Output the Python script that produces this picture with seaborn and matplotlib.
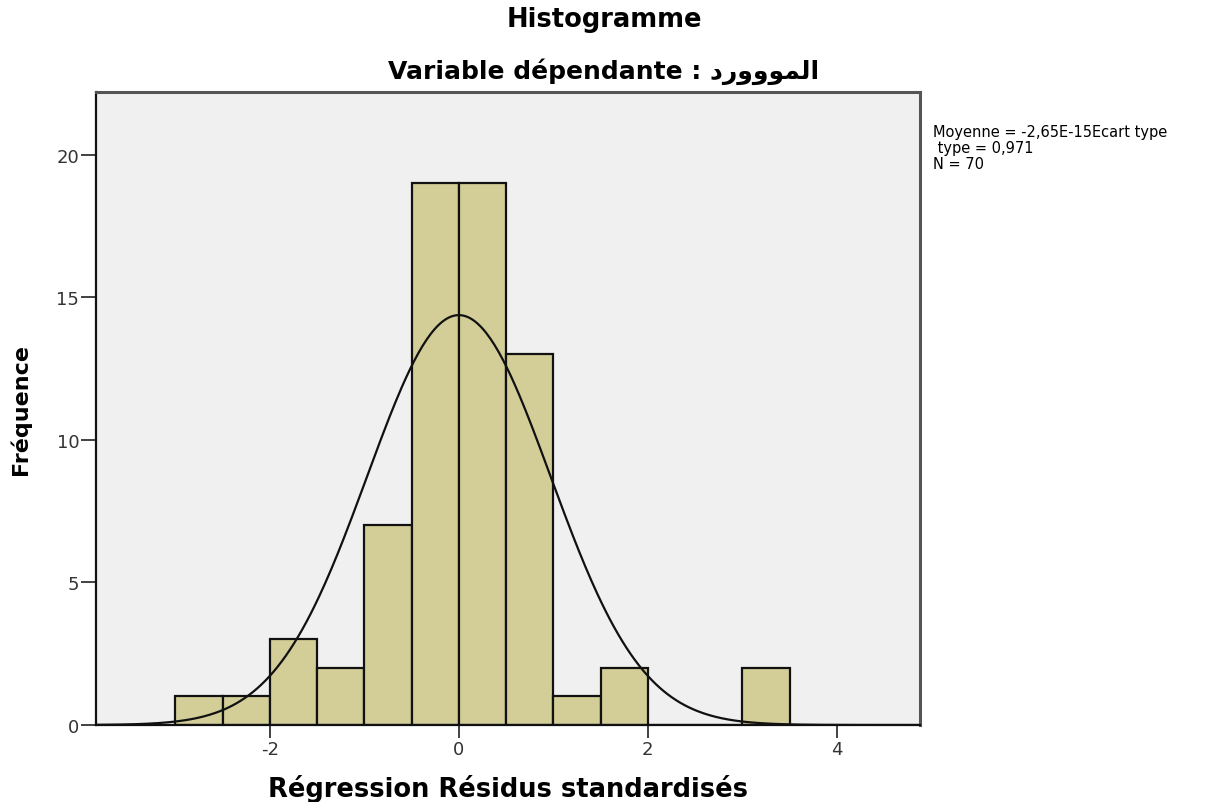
import numpy as np
import pandas as pd
import matplotlib
matplotlib.use("Agg")
import matplotlib.pyplot as plt
import seaborn as sns

# Standardized residual histogram (bin width 0.5)
bin_edges = [-3.0, -2.5, -2.0, -1.5, -1.0, -0.5, 0.0, 0.5, 1.0, 1.5, 2.0, 2.5, 3.0, 3.5]
counts = [1, 1, 3, 2, 7, 19, 19, 13, 1, 2, 0, 0, 2]
mean_resid = -2.65e-15
sd_resid = 0.971
n_obs = 70
x_ticks = [-2, 0, 2, 4]
y_ticks = [0, 5, 10, 15, 20]

# "المووورد" in shaped presentation forms, visual (left-to-right) order
dep_var = "\uFEA9\uFEAD\uFEED\uFEED\uFEEE\uFEE4\uFEDF\uFE8D"

sns.set_theme(style="white")
plt.rcParams["font.family"] = ["DejaVu Sans"]
plt.rcParams["text.color"] = "black"
plt.rcParams["axes.labelcolor"] = "black"

fig = plt.figure(figsize=(12.08, 8.03), dpi=100)
ax = fig.add_axes([0.0795, 0.0959, 0.682, 0.788])
ax.set_facecolor("#f0f0f0")

edges = np.array(bin_edges)
centers = (edges[:-1] + edges[1:]) / 2
df = pd.DataFrame({"resid": centers, "n": counts})
sns.histplot(data=df, x="resid", weights="n", bins=bin_edges, ax=ax,
             color="#d3ce98", alpha=1.0, edgecolor="#111111", linewidth=1.6)

# Fitted normal curve scaled to counts
xmin, xmax = -3.84, 4.88
xs = np.linspace(xmin, xmax, 400)
width = bin_edges[1] - bin_edges[0]
ys = n_obs * width / (sd_resid * np.sqrt(2 * np.pi)) * np.exp(-0.5 * ((xs - mean_resid) / sd_resid) ** 2)
sns.lineplot(x=xs, y=ys, ax=ax, color="#111111", linewidth=1.6)

ax.set_xlim(xmin, xmax)
ax.set_ylim(0, 22.2)
ax.set_xticks(x_ticks)
ax.set_yticks(y_ticks)
ax.set_xticklabels([str(v) for v in x_ticks])
ax.tick_params(axis="y", direction="out", length=11, width=1.3, color="#333333",
               labelsize=13, labelcolor="#333333", pad=1, left=True)
ax.tick_params(axis="x", direction="out", length=9, width=1.3, color="#333333",
               labelsize=13, labelcolor="#333333", pad=2, bottom=True)

for side in ["left", "bottom"]:
    ax.spines[side].set_color("#111111")
    ax.spines[side].set_linewidth(1.6)
for side in ["top", "right"]:
    ax.spines[side].set_color("#555555")
    ax.spines[side].set_linewidth(2.2)

ax.set_xlabel("Régression Résidus standardisés", fontsize=18.5, fontweight="bold", labelpad=11)
ax.set_ylabel("Fréquence", fontsize=16, fontweight="bold", labelpad=18)

fig.text(0.5, 0.975, "Histogramme", ha="center", va="center", fontsize=18.5, fontweight="bold")
fig.text(0.5, 0.911, "Variable dépendante : " + dep_var, ha="center", va="center",
         fontsize=18, fontweight="bold")

fig.text(0.772, 0.815, "Moyenne = -2,65E-15Ecart type\n type = 0,971\nN = 70",
         ha="left", va="center", fontsize=10.5, linespacing=1.05)

fig.savefig("out.png", dpi=100, facecolor="white")
